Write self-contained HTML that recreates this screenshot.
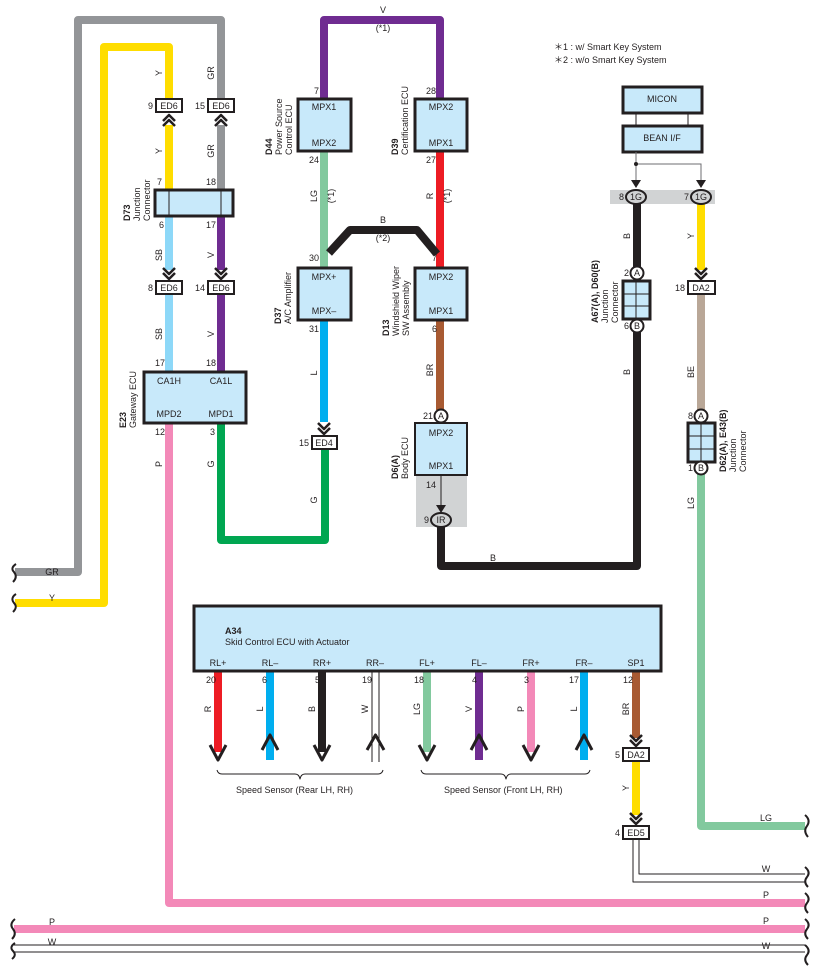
<!DOCTYPE html>
<html><head><meta charset="utf-8"><style>
html,body{margin:0;padding:0;background:#fff}
svg{display:block}
text{font-family:"Liberation Sans",sans-serif;fill:#231f20}
.s{font-size:9px}
.n{font-size:9px;text-anchor:middle}
.b{font-weight:bold}
</style></head><body>
<svg width="818" height="978" viewBox="0 0 818 978" xmlns="http://www.w3.org/2000/svg">
<g fill="none" stroke-linejoin="round" stroke-linecap="butt">
<!-- gray GR -->
<path d="M15 572 H78 V20 H221 V98" stroke="#939598" stroke-width="8"/>
<path d="M221 125 V190" stroke="#939598" stroke-width="8"/>
<!-- yellow -->
<path d="M15 603 H104 V47 H169 V98" stroke="#ffdd00" stroke-width="8"/>
<path d="M169 125 V190" stroke="#ffdd00" stroke-width="8"/>
<!-- SB / V -->
<path d="M169 216 V270 M169 293 V371" stroke="#8dd8f8" stroke-width="8"/>
<path d="M221 216 V270 M221 293 V371" stroke="#6f2c91" stroke-width="8"/>
<!-- pink P -->
<path d="M169 423 V903 H805" stroke="#f389b8" stroke-width="8"/>
<!-- green G -->
<path d="M221 423 V540 H325 V449" stroke="#00a651" stroke-width="8"/>
<!-- purple top -->
<path d="M324 99 V20 H440 V99" stroke="#6f2c91" stroke-width="8"/>
<!-- LG -->
<path d="M324 151 V268" stroke="#82c99e" stroke-width="8"/>
<!-- L -->
<path d="M324 320 V422" stroke="#00aeef" stroke-width="8"/>
<!-- red -->
<path d="M440 151 V268" stroke="#ed1c24" stroke-width="8"/>
<!-- black B *2 -->
<path d="M329 253 L350 230 H417 L437 254" stroke="#231f20" stroke-width="8"/>
<!-- brown BR -->
<path d="M440 320 V410" stroke="#a85a32" stroke-width="8"/>
<!-- black long -->
<path d="M441 527 V566 H637 V332" stroke="#231f20" stroke-width="8"/>
<path d="M637 204 V267" stroke="#231f20" stroke-width="8"/>
<!-- Y right -->
<path d="M701 204 V270" stroke="#ffdd00" stroke-width="8"/>
<!-- BE -->
<path d="M701 294 V410" stroke="#b9a797" stroke-width="8"/>
<!-- LG right -->
<path d="M701 474 V826 H805" stroke="#82c99e" stroke-width="8"/>
<!-- bottom -->
<path d="M14 929 H805" stroke="#f389b8" stroke-width="8"/>
<path d="M14 945 H805 M14 952 H805" stroke="#231f20" stroke-width="1"/>
<!-- ED5 W lines -->
<path d="M633 839 V882 H805 M639 839 V874 H805" stroke="#231f20" stroke-width="1"/>
<!-- SP1 -->
<path d="M636 671 V738" stroke="#a85a32" stroke-width="8"/>
<path d="M636 761 V815" stroke="#ffdd00" stroke-width="8"/>
<!-- sensor wires -->
<path d="M218 671 V752" stroke="#ed1c24" stroke-width="8"/>
<path d="M270 671 V760" stroke="#00aeef" stroke-width="8"/>
<path d="M322 671 V752" stroke="#231f20" stroke-width="8"/>
<path d="M372 671 V762 M379 671 V762" stroke="#231f20" stroke-width="1"/>
<path d="M427 671 V752" stroke="#82c99e" stroke-width="8"/>
<path d="M479 671 V760" stroke="#6f2c91" stroke-width="8"/>
<path d="M531 671 V752" stroke="#f389b8" stroke-width="8"/>
<path d="M584 671 V760" stroke="#00aeef" stroke-width="8"/>
<!-- arrowheads -->
<g stroke="#231f20" stroke-width="3">
<path d="M210 745 L218 760 L226 745"/>
<path d="M262 750 L270 735 L278 750"/>
<path d="M314 745 L322 760 L330 745"/>
<path d="M367 750 L375.5 735 L384 750"/>
<path d="M419 745 L427 760 L435 745"/>
<path d="M471 750 L479 735 L487 750"/>
<path d="M523 745 L531 760 L539 745"/>
<path d="M576 750 L584 735 L592 750"/>
</g>
<!-- chevrons -->
<g stroke="#231f20" stroke-width="2.5">
<path d="M163 121 L169 115 L175 121 M163 126 L169 120 L175 126"/>
<path d="M215 121 L221 115 L227 121 M215 126 L221 120 L227 126"/>
<path d="M163 268 L169 274 L175 268 M163 273 L169 279 L175 273"/>
<path d="M215 268 L221 274 L227 268 M215 273 L221 279 L227 273"/>
<path d="M318 423 L324 429 L330 423 M318 428 L324 434 L330 428"/>
<path d="M695 268 L701 274 L707 268 M695 273 L701 279 L707 273"/>
<path d="M630 735 L636 741 L642 735 M630 740 L636 746 L642 740"/>
<path d="M630 813 L636 819 L642 813 M630 818 L636 824 L642 818"/>
</g>
<!-- braces -->
<g stroke="#231f20" stroke-width="1">
<path d="M217 770 Q218 774 222 774 H295 Q299 774 300 779 Q301 774 305 774 H378 Q382 774 383 770"/>
<path d="M421 770 Q422 774 426 774 H501 Q505 774 506 779 Q507 774 511 774 H585 Q589 774 590 770"/>
</g>
<g stroke="#231f20" stroke-width="2">
<path d="M16 564 Q10 568 14 572 Q18 577 13 582"/>
<path d="M16 594 Q10 598 14 603 Q18 607 13 612"/>
<path d="M15 919 Q9 924 13 929 Q17 934 12 939"/>
<path d="M15 943 Q9 947 13 951 Q17 955 12 959"/>
<path d="M805 815 Q811 820 807 826 Q803 831 808 837"/>
<path d="M805 867 Q811 872 807 877 Q803 882 808 887"/>
<path d="M805 893 Q811 898 807 903 Q803 908 808 913"/>
<path d="M805 919 Q811 924 807 929 Q803 934 808 939"/>
<path d="M805 945 Q811 950 807 955 Q803 960 808 965"/>
</g>
</g>

<!-- boxes -->
<g fill="#c8e9fa" stroke="#231f20" stroke-width="3">
<rect x="155" y="190" width="78" height="26"/>
<rect x="144" y="372" width="102" height="51"/>
<rect x="298" y="99" width="53" height="52"/>
<rect x="298" y="268" width="53" height="52"/>
<rect x="415" y="99" width="52" height="52"/>
<rect x="415" y="268" width="52" height="52"/>
<rect x="415" y="423" width="52" height="52" stroke-width="2"/>
<rect x="623" y="87" width="79" height="26"/>
<rect x="623" y="126" width="79" height="26"/>
<rect x="194" y="606" width="467" height="65"/>
<rect x="623" y="281" width="27" height="38"/>
<rect x="688" y="423" width="27" height="39"/>
</g>
<g stroke="#231f20" stroke-width="1" fill="none">
<path d="M169 191 V215 M221 191 V215"/>
<path d="M636 114 V125 M688 114 V125"/>
<path d="M636 282 V318 M624 294 H649 M624 306 H649"/>
<path d="M701 424 V461 M689 436 H714 M689 449 H714"/>
</g>
<!-- gray areas -->
<rect x="416" y="476" width="51" height="51" fill="#d1d3d4"/>
<rect x="610" y="190" width="105" height="14" fill="#d1d3d4"/>
<path d="M441 475 V510" stroke="#231f20" stroke-width="1"/>
<path d="M436 505 L441 513 L446 505 Z" fill="#231f20"/>
<!-- BEAN lines -->
<g stroke="#6d6e71" stroke-width="1" fill="none">
<path d="M636 152 V185 M636 164 H701 V185"/>
</g>
<circle cx="636" cy="164" r="2" fill="#231f20"/>
<path d="M631 180 L636 188 L641 180 Z M696 180 L701 188 L706 180 Z" fill="#231f20"/>

<!-- small connector boxes -->
<g fill="#fff" stroke="#231f20" stroke-width="2">
<rect x="156" y="99" width="26" height="13"/>
<rect x="208" y="99" width="26" height="13"/>
<rect x="156" y="281" width="26" height="13"/>
<rect x="208" y="281" width="26" height="13"/>
<rect x="312" y="436" width="25" height="13"/>
<rect x="688" y="281" width="27" height="13"/>
<rect x="623" y="748" width="26" height="13"/>
<rect x="623" y="826" width="26" height="13"/>
<circle cx="441" cy="416" r="6.5"/>
<circle cx="637" cy="273" r="6.5"/>
<circle cx="637" cy="326" r="6.5"/>
<circle cx="701" cy="416" r="6.5"/>
<circle cx="701" cy="468" r="6.5"/>
<ellipse cx="441" cy="520" rx="10" ry="7" fill="#d1d3d4"/>
<ellipse cx="636" cy="197" rx="10" ry="7" fill="#d1d3d4"/>
<ellipse cx="701" cy="197" rx="10" ry="7" fill="#d1d3d4"/>
</g>

<!-- text in boxes -->
<g class="n">
<text x="169" y="109">ED6</text><text x="221" y="109">ED6</text>
<text x="169" y="291">ED6</text><text x="221" y="291">ED6</text>
<text x="324" y="446">ED4</text><text x="701" y="291">DA2</text>
<text x="636" y="758">DA2</text><text x="636" y="836">ED5</text>
<text x="441" y="419">A</text><text x="637" y="276">A</text><text x="637" y="329">B</text>
<text x="701" y="419">A</text><text x="701" y="471">B</text>
<text x="441" y="523">IR</text><text x="636" y="200">1G</text><text x="701" y="200">1G</text>
<text x="169" y="384">CA1H</text><text x="221" y="384">CA1L</text>
<text x="169" y="417">MPD2</text><text x="221" y="417">MPD1</text>
<text x="324" y="110">MPX1</text><text x="324" y="146">MPX2</text>
<text x="324" y="280">MPX+</text><text x="324" y="314">MPX–</text>
<text x="441" y="110">MPX2</text><text x="441" y="146">MPX1</text>
<text x="441" y="280">MPX2</text><text x="441" y="314">MPX1</text>
<text x="441" y="436">MPX2</text><text x="441" y="469">MPX1</text>
<text x="662" y="102">MICON</text><text x="662" y="141">BEAN I/F</text>
<text x="218" y="666">RL+</text><text x="270" y="666">RL–</text><text x="322" y="666">RR+</text><text x="375" y="666">RR–</text>
<text x="427" y="666">FL+</text><text x="479" y="666">FL–</text><text x="531" y="666">FR+</text><text x="584" y="666">FR–</text><text x="636" y="666">SP1</text>
</g>
<text class="s b" x="225" y="634">A34</text>
<text class="s" x="225" y="645">Skid Control ECU with Actuator</text>

<!-- pin numbers -->
<g class="s" text-anchor="end">
<text x="153" y="109">9</text><text x="205" y="109">15</text>
<text x="153" y="291">8</text><text x="205" y="291">14</text>
<text x="309" y="446">15</text><text x="685" y="291">18</text>
<text x="620" y="758">5</text><text x="620" y="836">4</text>
<text x="433" y="419">21</text><text x="629" y="276">2</text><text x="629" y="329">6</text>
<text x="693" y="419">8</text><text x="693" y="471">1</text>
<text x="429" y="523">9</text><text x="624" y="200">8</text><text x="689" y="200">7</text>
</g>
<g class="s">
<text x="157" y="185">7</text><text x="206" y="185">18</text>
<text x="159" y="228">6</text><text x="206" y="228">17</text>
<text x="155" y="366">17</text><text x="206" y="366">18</text>
<text x="155" y="435">12</text><text x="210" y="435">3</text>
<text x="314" y="94">7</text><text x="309" y="163">24</text>
<text x="309" y="261">30</text><text x="309" y="332">31</text>
<text x="426" y="94">28</text><text x="426" y="163">27</text>
<text x="432" y="261">7</text><text x="432" y="332">6</text>
<text x="426" y="488">14</text>
<text x="206" y="683">20</text><text x="262" y="683">6</text><text x="315" y="683">5</text><text x="362" y="683">19</text>
<text x="414" y="683">18</text><text x="472" y="683">4</text><text x="524" y="683">3</text><text x="569" y="683">17</text><text x="623" y="683">12</text>
<text x="554" y="50">＊1 : w/ Smart Key System</text>
<text x="554" y="63">＊2 : w/o Smart Key System</text>
<text x="236" y="793">Speed Sensor (Rear LH,  RH)</text>
<text x="444" y="793">Speed Sensor (Front LH,  RH)</text>
</g>
<!-- horizontal wire labels -->
<g class="n">
<text x="383" y="13">V</text><text x="383" y="31">(*1)</text>
<text x="383" y="223">B</text><text x="383" y="241">(*2)</text>
<text x="493" y="561">B</text>
<text x="52" y="575">GR</text><text x="52" y="601">Y</text>
<text x="52" y="925">P</text><text x="52" y="945">W</text>
<text x="766" y="821">LG</text><text x="766" y="872">W</text>
<text x="766" y="898">P</text><text x="766" y="924">P</text><text x="766" y="949">W</text>
</g>
<!-- vertical wire labels -->
<g class="n">
<text transform="translate(162,73) rotate(-90)">Y</text>
<text transform="translate(214,73) rotate(-90)">GR</text>
<text transform="translate(162,151) rotate(-90)">Y</text>
<text transform="translate(214,151) rotate(-90)">GR</text>
<text transform="translate(162,255) rotate(-90)">SB</text>
<text transform="translate(214,255) rotate(-90)">V</text>
<text transform="translate(162,334) rotate(-90)">SB</text>
<text transform="translate(214,334) rotate(-90)">V</text>
<text transform="translate(162,464) rotate(-90)">P</text>
<text transform="translate(214,464) rotate(-90)">G</text>
<text transform="translate(317,500) rotate(-90)">G</text>
<text transform="translate(317,196) rotate(-90)">LG</text>
<text transform="translate(334,196) rotate(-90)">(*1)</text>
<text transform="translate(317,373) rotate(-90)">L</text>
<text transform="translate(433,196) rotate(-90)">R</text>
<text transform="translate(450,196) rotate(-90)">(*1)</text>
<text transform="translate(433,370) rotate(-90)">BR</text>
<text transform="translate(630,236) rotate(-90)">B</text>
<text transform="translate(694,236) rotate(-90)">Y</text>
<text transform="translate(630,372) rotate(-90)">B</text>
<text transform="translate(694,372) rotate(-90)">BE</text>
<text transform="translate(694,503) rotate(-90)">LG</text>
<text transform="translate(211,709) rotate(-90)">R</text>
<text transform="translate(263,709) rotate(-90)">L</text>
<text transform="translate(315,709) rotate(-90)">B</text>
<text transform="translate(368,709) rotate(-90)">W</text>
<text transform="translate(420,709) rotate(-90)">LG</text>
<text transform="translate(472,709) rotate(-90)">V</text>
<text transform="translate(524,709) rotate(-90)">P</text>
<text transform="translate(577,709) rotate(-90)">L</text>
<text transform="translate(629,709) rotate(-90)">BR</text>
<text transform="translate(629,788) rotate(-90)">Y</text>
</g>
<!-- vertical component labels -->
<g class="s">
<g transform="translate(130,221) rotate(-90)"><text class="b" x="0" y="0">D73</text><text x="0" y="10">Junction</text><text x="0" y="20">Connector</text></g>
<g transform="translate(126,428) rotate(-90)"><text class="b" x="0" y="0">E23</text><text x="0" y="10">Gateway ECU</text></g>
<g transform="translate(272,155) rotate(-90)"><text class="b" x="0" y="0">D44</text><text x="0" y="10">Power Source</text><text x="0" y="20">Control ECU</text></g>
<g transform="translate(281,324) rotate(-90)"><text class="b" x="0" y="0">D37</text><text x="0" y="10">A/C Amplifier</text></g>
<g transform="translate(398,155) rotate(-90)"><text class="b" x="0" y="0">D39</text><text x="0" y="10">Certification ECU</text></g>
<g transform="translate(389,336) rotate(-90)"><text class="b" x="0" y="0">D13</text><text x="0" y="10">Windshield Wiper</text><text x="0" y="20">SW Assembly</text></g>
<g transform="translate(398,479) rotate(-90)"><text class="b" x="0" y="0">D6(A)</text><text x="0" y="10">Body ECU</text></g>
<g transform="translate(598,323) rotate(-90)"><text class="b" x="0" y="0">A67(A), D60(B)</text><text x="0" y="10">Junction</text><text x="0" y="20">Connector</text></g>
<g transform="translate(726,472) rotate(-90)"><text class="b" x="0" y="0">D62(A), E43(B)</text><text x="0" y="10">Junction</text><text x="0" y="20">Connector</text></g>
</g>
</svg>
</body></html>
